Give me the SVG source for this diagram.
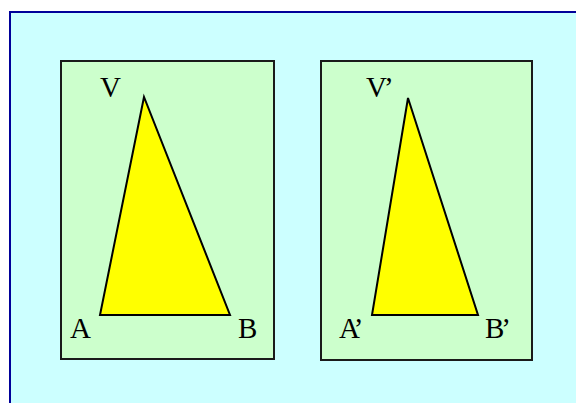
<svg xmlns="http://www.w3.org/2000/svg" width="576" height="403" viewBox="0 0 576 403">
<style>
.frame{fill:#CCFFFF;stroke:#000099;stroke-width:2}
.panel{fill:#CCFFCC;stroke:#1a1a1a;stroke-width:2}
.tri{fill:#FFFF00;stroke:#000;stroke-width:2;stroke-linejoin:miter}
.lbl{font-family:"Liberation Serif","Times New Roman",serif;font-size:29px;fill:#000}
.prime{letter-spacing:-3px}
</style>
<rect x="0" y="0" width="576" height="403" fill="#FFFFFF"/>
<rect class="frame" x="10" y="12" width="620" height="450"/>
<g id="left-panel">
<rect class="panel" x="61" y="61" width="213" height="298"/>
<polygon class="tri" points="144,97 100,315 230,315"/>
<text class="lbl" x="100" y="97">V</text>
<text class="lbl" x="70" y="338">A</text>
<text class="lbl" x="238" y="338">B</text>
</g>
<g id="right-panel">
<rect class="panel" x="321" y="61" width="211" height="299"/>
<polygon class="tri" points="408,98 372,315 478,315"/>
<text class="lbl prime" x="366" y="97">V’</text>
<text class="lbl prime" x="339" y="338">A’</text>
<text class="lbl prime" x="485" y="338">B’</text>
</g>
<g id="connectors"/>
</svg>
